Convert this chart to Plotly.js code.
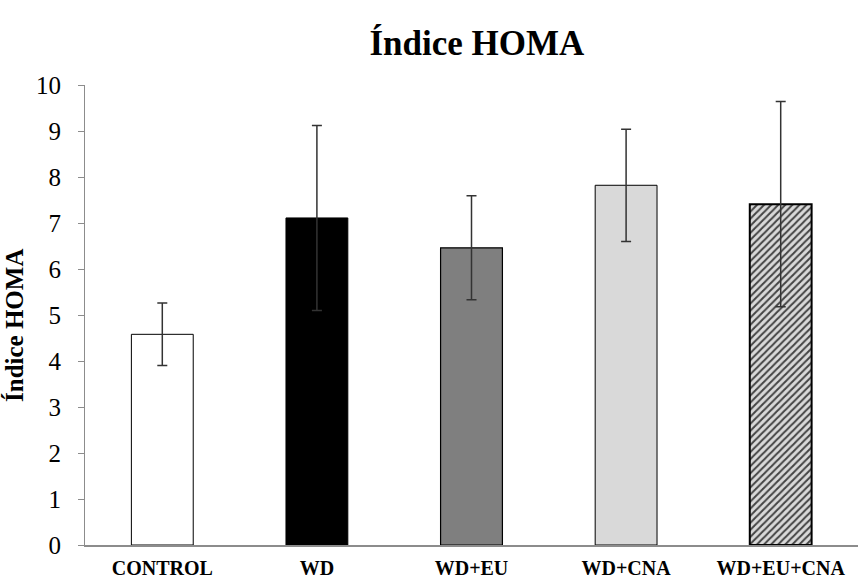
<!DOCTYPE html>
<html>
<head>
<meta charset="utf-8">
<script src="https://cdn.plot.ly/plotly-3.0.1.min.js"></script>
<style>html,body{margin:0;padding:0;background:#fff;}#chart{width:859px;height:581px;}</style>
</head>
<body>
<div id="chart"></div>
<script>
const categories = ["CONTROL", "WD", "WD+EU", "WD+CNA", "WD+EU+CNA"];
const homaValues = [4.58, 7.11, 6.46, 7.82, 7.41];
const homaErrors = [0.68, 2.01, 1.13, 1.22, 2.23];
const yTickValues = [0, 1, 2, 3, 4, 5, 6, 7, 8, 9, 10];

const barColors = ["#ffffff", "#000000", "#7f7f7f", "#d9d9d9", "#d9d9d9"];
const patternShapes = ["", "", "", "", "/"];
const outlineWidths = [1, 1, 1.2, 1, 2];

const trace = {
  type: "bar",
  x: categories,
  y: homaValues,
  marker: {
    color: barColors,
    line: { color: "#000000", width: outlineWidths },
    pattern: { shape: patternShapes, fillmode: "overlay", fgcolor: "#787878", fgopacity: 1, size: 5, solidity: 0.4 }
  },
  error_y: { type: "data", array: homaErrors, visible: true, color: "#333333", thickness: 1.5, width: 5 },
  hoverinfo: "x+y"
};

const serif = "'Liberation Serif', 'Times New Roman', serif";

const layout = {
  width: 859,
  height: 581,
  margin: { l: 85, r: 1, t: 85, b: 36 },
  paper_bgcolor: "#ffffff",
  plot_bgcolor: "#ffffff",
  showlegend: false,
  bargap: 0.6,
  title: {
    text: "<b>Índice HOMA</b>",
    font: { family: serif, size: 35, color: "#000000" },
    x: 0.507, xanchor: "center",
    y: 40, yref: "container", yanchor: "middle", xref: "paper"
  },
  annotations: [{
    text: "<b>Índice HOMA</b>",
    font: { family: serif, size: 25, color: "#000000" },
    textangle: -90,
    xref: "paper", yref: "paper",
    x: -0.092, xanchor: "center",
    y: 0.478, yanchor: "middle",
    showarrow: false
  }],
  xaxis: {
    type: "category",
    showline: true,
    linecolor: "#8c8c8c",
    linewidth: 1.5,
    showgrid: false,
    zeroline: false,
    ticks: "",
    ticklabelstandoff: 4,
    tickfont: { family: serif, size: 20, color: "#000000" },
    tickprefix: "<b>", ticksuffix: "</b>"
  },
  yaxis: {
    range: [0, 10],
    tickvals: yTickValues,
    ticktext: yTickValues.map(String),
    showline: true,
    linecolor: "#8c8c8c",
    linewidth: 1,
    showgrid: false,
    zeroline: false,
    ticks: "outside",
    ticklen: 6,
    tickcolor: "#8c8c8c",
    ticklabelstandoff: 12,
    tickfont: { family: serif, size: 25, color: "#000000" }
  }
};

Plotly.newPlot("chart", [trace], layout, { displayModeBar: false, staticPlot: true });
</script>
</body>
</html>
